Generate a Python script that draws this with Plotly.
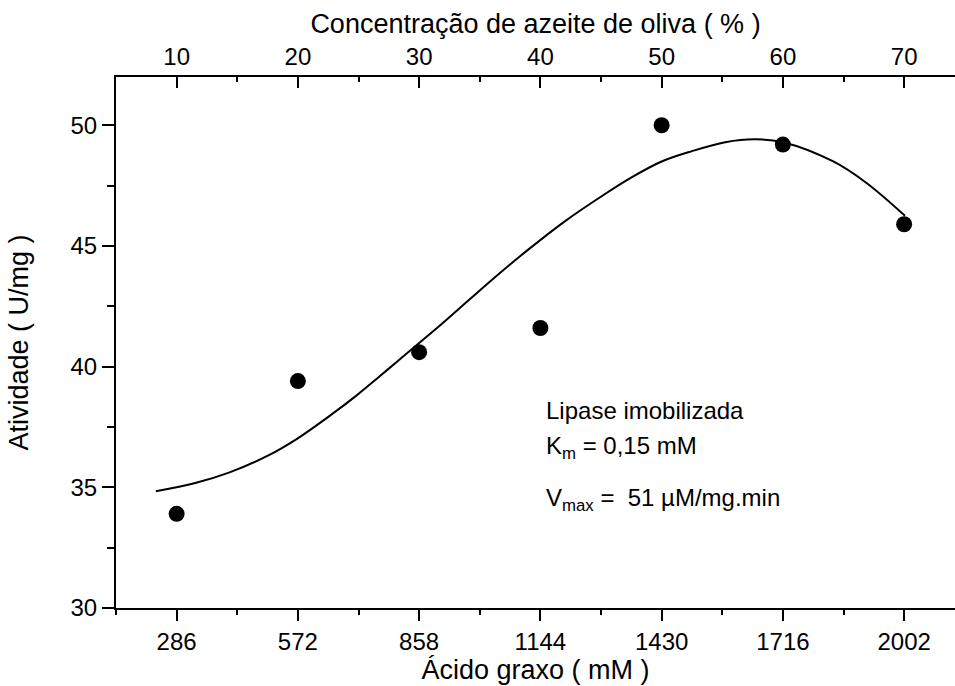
import plotly.graph_objects as go

# Measured activity of the immobilized lipase versus fatty-acid concentration
acido_mM = [286, 572, 858, 1144, 1430, 1716, 2002]
atividade = [33.9, 39.4, 40.6, 41.6, 50.0, 49.2, 45.9]

# Smooth fitted curve, sampled along its path
curva_mM = [237, 330, 411, 500, 569, 650, 710, 765, 812, 907, 978, 1050, 1119,
            1200, 1292, 1360, 1430, 1500, 1580, 1650, 1716, 1835, 1914, 2004]
curva_ativ = [34.84, 35.18, 35.62, 36.3, 37.0, 38.0, 38.8, 39.6, 40.3, 41.7, 42.8,
              43.9, 44.9, 46.0, 47.1, 47.85, 48.5, 48.92, 49.3, 49.42, 49.3,
              48.5, 47.6, 46.25]

# Axis ticks
x_ticks = [286, 572, 858, 1144, 1430, 1716, 2002]
x_minor = [143, 429, 715, 1001, 1287, 1573, 1859]
top_ticks = [10, 20, 30, 40, 50, 60, 70]
top_minor = [5, 15, 25, 35, 45, 55, 65]
y_ticks = [30, 35, 40, 45, 50]
y_minor = [32.5, 37.5, 42.5, 47.5]

FONT = "Liberation Sans, Arial, sans-serif"
x_range = [143, 2122]
mM_por_pct = 28.6

fig = go.Figure()
fig.add_trace(go.Scatter(
    x=curva_mM, y=curva_ativ, mode="lines",
    line=dict(color="black", width=2, shape="spline", smoothing=1),
    hoverinfo="skip", showlegend=False))
fig.add_trace(go.Scatter(
    x=acido_mM, y=atividade, mode="markers",
    marker=dict(color="black", size=16, line=dict(width=0)),
    showlegend=False))
# Percentage scale on the top axis
fig.add_trace(go.Scatter(
    x=top_ticks, y=atividade, xaxis="x2", mode="markers",
    marker=dict(opacity=0), hoverinfo="skip", showlegend=False))

axis_common = dict(showline=True, linecolor="black", linewidth=2,
                   tickcolor="black", tickwidth=2, showgrid=False,
                   zeroline=False, tickfont=dict(family=FONT, size=24, color="black"))
title_font = dict(family=FONT, size=27, color="black")

fig.update_layout(
    width=955, height=686,
    margin=dict(l=116, r=0, t=77, b=78),
    plot_bgcolor="white", paper_bgcolor="white",
    font=dict(family=FONT, size=24, color="black"),
    xaxis=dict(
        **axis_common, range=x_range, tickmode="array", tickvals=x_ticks,
        ticks="outside", ticklen=11,
        minor=dict(tickmode="array", tickvals=x_minor, ticks="outside",
                   ticklen=5, tickwidth=2, tickcolor="black"),
        title=dict(text="Ácido graxo ( mM )", font=title_font, standoff=4)),
    xaxis2=dict(
        **axis_common, overlaying="x", side="top",
        range=[x_range[0] / mM_por_pct, x_range[1] / mM_por_pct],
        tickmode="array", tickvals=top_ticks, ticks="inside", ticklen=11,
        minor=dict(tickmode="array", tickvals=top_minor, ticks="inside",
                   ticklen=5, tickwidth=2, tickcolor="black"),
        title=dict(text="Concentração de azeite de oliva ( % )",
                   font=title_font, standoff=2)),
    yaxis=dict(
        **axis_common, range=[30, 52], tickmode="array", tickvals=y_ticks,
        ticks="outside", ticklen=12,
        minor=dict(tickmode="array", tickvals=y_minor, ticks="outside",
                   ticklen=7, tickwidth=2, tickcolor="black"),
        title=dict(text="Atividade ( U/mg )", font=title_font, standoff=34)),
)

# Kinetic parameters
notes = [
    ("Lipase imobilizada", 0.371),
    ("K<sub>m</sub> = 0,15 mM", 0.303),
    ("V<sub>max</sub> =\u00a0 51 \u00b5M/mg.min", 0.205),
]
for text, ypos in notes:
    fig.add_annotation(text=text, xref="paper", yref="paper",
                       x=0.51, y=ypos, xanchor="left", yanchor="middle",
                       showarrow=False, font=dict(family=FONT, size=24, color="black"))

fig.write_html("out.html")
